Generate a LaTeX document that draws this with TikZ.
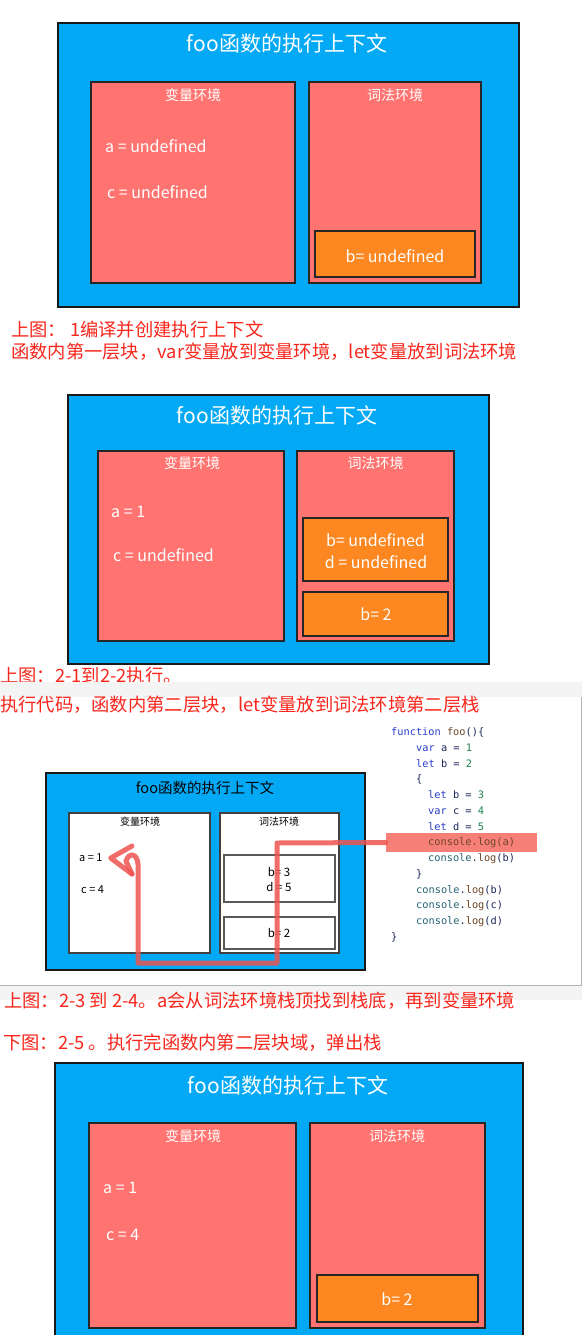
\documentclass[tikz,border=0pt]{standalone}
\usepackage{fontspec}
\setmainfont{Noto Sans CJK SC}
\newfontfamily\codefont{DejaVu Sans Mono}
\definecolor{ctxblue}{RGB}{3,169,244}
\definecolor{envred}{RGB}{255,116,112}
\definecolor{boxorange}{RGB}{253,135,32}
\definecolor{capred}{RGB}{248,38,28}
\definecolor{pathred}{RGB}{238,84,80}
\definecolor{hlred}{RGB}{246,128,120}
\definecolor{kw}{RGB}{40,60,200}
\definecolor{fn}{RGB}{110,70,40}
\definecolor{num}{RGB}{30,130,80}
\definecolor{cons}{RGB}{40,100,120}
\definecolor{idf}{RGB}{30,40,90}
\definecolor{band}{RGB}{244,244,244}
\tikzset{
  boxw/.style={minimum width=#1},
  boxh/.style={minimum height=#1},
  ctx/.style={draw=black!90, line width=2pt, fill=ctxblue, inner sep=0pt, outer sep=0pt},
  env/.style={draw=black!85, line width=1.6pt, fill=envred, inner sep=0pt, outer sep=0pt},
  envw/.style={draw=black!75, line width=1.2pt, fill=white, inner sep=0pt, outer sep=0pt},
  obox/.style={draw=black!85, line width=1.6pt, fill=boxorange, inner sep=0pt, outer sep=0pt},
  wbox/.style={draw=black!65, line width=1.2pt, fill=white, inner sep=0pt, outer sep=0pt},
  title/.style={text=white, font=\fontsize{21}{24}\selectfont, inner sep=0pt},
  envlabel/.style={text=white, font=\fontsize{14}{16}\selectfont, inner sep=0pt},
  val/.style={text=white, font=\fontsize{16}{18}\selectfont, inner sep=0pt},
  caption/.style={text=capred, font=\fontsize{18.3}{20}\selectfont, inner sep=0pt, anchor=west},
  code/.style={font=\codefont\fontsize{10.3}{12}\selectfont, inner sep=0pt, anchor=base west, text=idf},
  redpath/.style={draw=pathred, draw opacity=0.85, line width=5pt, line cap=round, line join=round}
}
\begin{document}
\begin{tikzpicture}[x=1pt,y=-1pt]
\useasboundingbox (0,0) rectangle (582,1335);
\fill[white] (0,0) rectangle (582,1335);
% ---------------- Panel 1 ----------------
\node[ctx, boxw=461pt, boxh=284pt] (c1) at (288.5,165) {};
\node[env, boxw=204pt, boxh=201pt] (v1) at (193,182.5) {};
\node[env, boxw=172pt, boxh=201pt] (l1) at (395,182.5) {};
\node[obox, boxw=160pt, boxh=46pt] (o1) at (395,254) {};
\node[title] (t1) at (287,43) {foo函数的执行上下文};
\node[envlabel] (vl1) at (193,95) {变量环境};
\node[envlabel] (ll1) at (395,95) {词法环境};
\node[val, anchor=west] (a1) at (105,146) {a = undefined};
\node[val, anchor=west] (cc1) at (107,192) {c = undefined};
\node[val] (b1) at (395,256) {b= undefined};
\node[caption] (cap1a) at (11,330) {上图：\ 1编译并创建执行上下文};
\node[caption] (cap1b) at (11,352) {函数内第一层块，var变量放到变量环境，let变量放到词法环境};
% ---------------- Panel 2 ----------------
\node[ctx, boxw=421pt, boxh=269pt] (c2) at (278.5,529.5) {};
\node[env, boxw=186pt, boxh=190pt] (v2) at (191,546) {};
\node[env, boxw=157pt, boxh=190pt] (l2) at (375.5,546) {};
\node[obox, boxw=145pt, boxh=63pt] (o2a) at (375.5,549.5) {};
\node[obox, boxw=145pt, boxh=44pt] (o2b) at (375.5,614) {};
\node[title] (t2) at (277,415) {foo函数的执行上下文};
\node[envlabel] (vl2) at (192,463) {变量环境};
\node[envlabel] (ll2) at (375.5,463) {词法环境};
\node[val, anchor=west] (a2) at (111,512) {a = 1};
\node[val, anchor=west] (cc2) at (113,555) {c = undefined};
\node[val] (b2a) at (375.5,540) {b= undefined};
\node[val] (d2a) at (376,562) {d = undefined};
\node[val] (b2b) at (376,614) {b= 2};
\node[caption] (cap2a) at (0,676) {上图：2-1到2-2执行。};
% ---------------- Panel 3 ----------------
\fill[band] (0,682) rectangle (582,697);
\fill[white] (0,697) rectangle (581,985);
\draw[black!30, line width=1pt] (581,697) -- (581,985) -- (0,985);
\node[caption] (cap2b) at (0,705) {执行代码，函数内第二层块，let变量放到词法环境第二层栈};
\node[ctx, boxw=319pt, boxh=197pt] (c3) at (205.5,871.5) {};
\node[envw, boxw=141pt, boxh=140pt] (v3) at (139.5,883) {};
\node[envw, boxw=119pt, boxh=140pt] (l3) at (279.5,883) {};
\node[wbox, boxw=111pt, boxh=47pt] (w3a) at (279.5,878.5) {};
\node[wbox, boxw=111pt, boxh=32pt] (w3b) at (279.5,933) {};
\node[inner sep=0pt, font=\fontsize{14.5}{16}\selectfont] (t3) at (205,788) {foo函数的执行上下文};
\node[inner sep=0pt, font=\fontsize{10}{12}\selectfont] (vl3) at (140,822) {变量环境};
\node[inner sep=0pt, font=\fontsize{10}{12}\selectfont] (ll3) at (279,822) {词法环境};
\node[inner sep=0pt, anchor=west, font=\fontsize{11}{13}\selectfont] (a3) at (79,858) {a = 1};
\node[inner sep=0pt, anchor=west, font=\fontsize{11}{13}\selectfont] (cc3) at (81,890) {c = 4};
\node[inner sep=0pt, font=\fontsize{11.5}{13}\selectfont] (b3a) at (279,872) {b= 3};
\node[inner sep=0pt, font=\fontsize{11.5}{13}\selectfont] (d3a) at (279,887) {d = 5};
\node[inner sep=0pt, font=\fontsize{11.5}{13}\selectfont] (b3b) at (279,933) {b= 2};
% code
\node[fill=hlred, minimum width=151pt, minimum height=19pt, inner sep=0pt] (hl) at (461.5,842.5) {};
\node[code] (k1) at (391,735.5) {\textcolor{kw}{function} \textcolor{fn}{foo}()\{};
\node[code] (k2) at (416,751.25) {\textcolor{kw}{var} a = \textcolor{num}{1}};
\node[code] (k3) at (416,767) {\textcolor{kw}{let} b = \textcolor{num}{2}};
\node[code] (k4) at (416,782.75) {\{};
\node[code] (k5) at (428,798.5) {\textcolor{kw}{let} b = \textcolor{num}{3}};
\node[code] (k6) at (428,814.25) {\textcolor{kw}{var} c = \textcolor{num}{4}};
\node[code] (k7) at (428,830) {\textcolor{kw}{let} d = \textcolor{num}{5}};
\node[code, text=fn] (k8) at (428,845.75) {console.log(a)};
\node[code] (k9) at (428,861.5) {\textcolor{cons}{console}.\textcolor{fn}{log}(b)};
\node[code] (k10) at (416,877.25) {\}};
\node[code] (k11) at (416,893) {\textcolor{cons}{console}.\textcolor{fn}{log}(b)};
\node[code] (k12) at (416,908.75) {\textcolor{cons}{console}.\textcolor{fn}{log}(c)};
\node[code] (k13) at (416,924.5) {\textcolor{cons}{console}.\textcolor{fn}{log}(d)};
\node[code] (k14) at (391,940.25) {\}};
% red search path
\coordinate (p1) at (277,843);
\coordinate (p2) at (277,963);
\coordinate (p3) at (138,963);
\coordinate (p4) at (138,864);
\draw[redpath] (hl.west) -- (p1) -- (p2) -- (p3) -- (p4)
  .. controls (137,853) and (129,852) .. (126,861) -- (132,874);
\draw[redpath] (132,846) -- ([xshift=8pt]a3.east) -- (132,874);
% ---------------- Panel 4 ----------------
\fill[band] (0,986) rectangle (582,1000);
\node[caption] (cap3) at (4,1001) {上图：2-3 到 2-4。a会从词法环境栈顶找到栈底，再到变量环境};
\node[caption] (cap4) at (3,1043) {下图：2-5 。执行完函数内第二层块域，弹出栈};
\node[ctx, boxw=468pt, boxh=290pt] (c4) at (289,1208) {};
\node[env, boxw=207pt, boxh=205pt] (v4) at (192.5,1225.5) {};
\node[env, boxw=175pt, boxh=205pt] (l4) at (397.5,1225.5) {};
\node[obox, boxw=161pt, boxh=47pt] (o4) at (397.5,1298.5) {};
\node[title] (t4) at (288,1085) {foo函数的执行上下文};
\node[envlabel] (vl4) at (193,1136) {变量环境};
\node[envlabel] (ll4) at (397,1136) {词法环境};
\node[val, anchor=west] (a4) at (103,1188) {a = 1};
\node[val, anchor=west] (cc4) at (106,1235) {c = 4};
\node[val] (b4) at (397,1299) {b= 2};
\end{tikzpicture}
\end{document}
